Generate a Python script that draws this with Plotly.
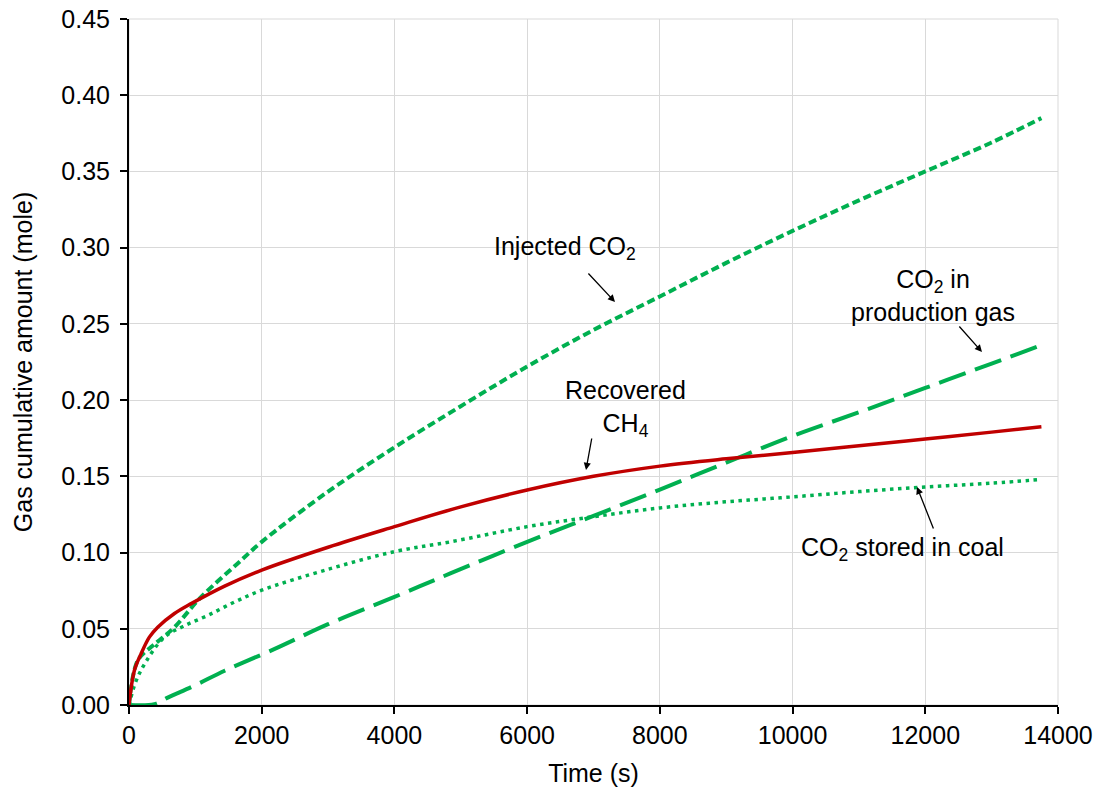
import plotly.graph_objects as go

# ---- data ----
t_ch4 = [0, 80, 181, 307, 433, 685, 937, 1441, 2000, 3000, 4000, 5000, 6000, 7000, 8000, 9000, 10000, 11000, 12000, 13000, 13750]
recovered_ch4 = [0, 0.0225, 0.0335, 0.0445, 0.051, 0.060, 0.0665, 0.078, 0.0885, 0.1035, 0.117, 0.130, 0.141, 0.150, 0.1567, 0.1615, 0.1656, 0.170, 0.1745, 0.179, 0.1825]

t_inj = [0, 130, 332, 484, 685, 1088, 1642, 2000, 3000, 4000, 5000, 6000, 7000, 8000, 9000, 10000, 11000, 12000, 13000, 13750]
injected_co2 = [0, 0.029, 0.038, 0.0434, 0.051, 0.0709, 0.093, 0.107, 0.140, 0.169, 0.196, 0.222, 0.246, 0.268, 0.290, 0.311, 0.331, 0.350, 0.369, 0.385]

t_sto = [0, 100, 250, 534, 836, 1189, 1592, 2000, 3000, 4000, 4842, 6000, 7000, 8000, 9000, 10000, 11000, 12000, 13000, 13750]
stored_co2 = [0, 0.015, 0.028, 0.0445, 0.052, 0.0588, 0.0676, 0.0753, 0.089, 0.1006, 0.107, 0.117, 0.1235, 0.1293, 0.1333, 0.1365, 0.140, 0.143, 0.1455, 0.148]

t_prod = [0, 383, 584, 1000, 1441, 2196, 3000, 4000, 4842, 6000, 7000, 8000, 9000, 10000, 11000, 12000, 13000, 13750]
prod_co2 = [0, 0.0005, 0.0048, 0.013, 0.0225, 0.0368, 0.053, 0.0709, 0.0863, 0.107, 0.124, 0.1413, 0.159, 0.1765, 0.192, 0.208, 0.224, 0.236]

x_ticks = [0, 2000, 4000, 6000, 8000, 10000, 12000, 14000]
y_ticks = [0.00, 0.05, 0.10, 0.15, 0.20, 0.25, 0.30, 0.35, 0.40, 0.45]

GREEN = "#00B050"
RED = "#C00000"
FONT = "Liberation Sans, Arial, sans-serif"
FS = 25

fig = go.Figure()
fig.add_trace(go.Scatter(x=t_inj, y=injected_co2, mode="lines",
                         line=dict(color=GREEN, width=4, dash="8px,4px", shape="spline", smoothing=1),
                         name="Injected CO2"))
fig.add_trace(go.Scatter(x=t_prod, y=prod_co2, mode="lines",
                         line=dict(color=GREEN, width=4, dash="28px,10px", shape="spline", smoothing=1),
                         name="CO2 in production gas"))
fig.add_trace(go.Scatter(x=t_sto, y=stored_co2, mode="lines",
                         line=dict(color=GREEN, width=3.5, dash="3.5px,4.5px", shape="spline", smoothing=1),
                         name="CO2 stored in coal"))
fig.add_trace(go.Scatter(x=t_ch4, y=recovered_ch4, mode="lines",
                         line=dict(color=RED, width=3.5, shape="spline", smoothing=1),
                         name="Recovered CH4"))


def px2x(px):
    return (px - 129) / 929.0 * 14000


def py2y(py):
    return (705 - py) / 686.0 * 0.45


labels = [
    ("Injected CO<sub>2</sub>", 565, 248, 587, 272, 615, 302),
    ("CO<sub>2</sub> in<br>production gas", 933, 295, 958, 325, 982, 352),
    ("Recovered<br>CH<sub>4</sub>", 625, 408, 592, 437, 586, 470),
    ("CO<sub>2</sub> stored in coal", 902, 549, 934, 530, 917, 487),
]
for txt, tx, ty, ax0, ay0, hx, hy in labels:
    fig.add_annotation(x=px2x(tx), y=py2y(ty), text=txt, showarrow=False,
                       font=dict(family=FONT, size=FS, color="black"), xref="x", yref="y")
    fig.add_annotation(x=px2x(hx), y=py2y(hy), ax=px2x(ax0), ay=py2y(ay0), axref="x", ayref="y",
                       xref="x", yref="y", text="", showarrow=True, arrowhead=2, arrowsize=1.1,
                       arrowwidth=1.3, arrowcolor="black")

fig.update_layout(
    width=1099, height=794,
    margin=dict(l=129, r=41, t=19, b=89, autoexpand=False),
    plot_bgcolor="white", paper_bgcolor="white",
    showlegend=False,
    font=dict(family=FONT, size=FS, color="black"),
)
fig.update_xaxes(range=[0, 14000], tickvals=x_ticks, ticktext=[str(v) for v in x_ticks],
                 showgrid=True, gridcolor="#d9d9d9", gridwidth=1,
                 showline=True, linecolor="black", linewidth=2,
                 ticks="outside", ticklen=7, tickcolor="black", tickwidth=1.5,
                 zeroline=False, automargin=False,
                 title=dict(text="Time (s)", font=dict(size=FS), standoff=16),
                 tickfont=dict(size=FS))
fig.update_yaxes(range=[0, 0.45], tickvals=y_ticks, ticktext=["%.2f\u2009" % v for v in y_ticks],
                 showgrid=True, gridcolor="#d9d9d9", gridwidth=1,
                 showline=True, linecolor="black", linewidth=2,
                 ticks="outside", ticklen=7, tickcolor="black", tickwidth=1.5,
                 zeroline=False, automargin=False,
                 title=dict(text="Gas cumulative amount (mole)", font=dict(size=FS), standoff=22),
                 tickfont=dict(size=FS))
fig.add_shape(type="rect", xref="paper", yref="paper", x0=0, y0=0, x1=1, y1=1,
              line=dict(color="#d9d9d9", width=1), layer="below")

fig.write_html("out.html", config={"displayModeBar": False},
               post_script="document.body.style.margin='0';")
